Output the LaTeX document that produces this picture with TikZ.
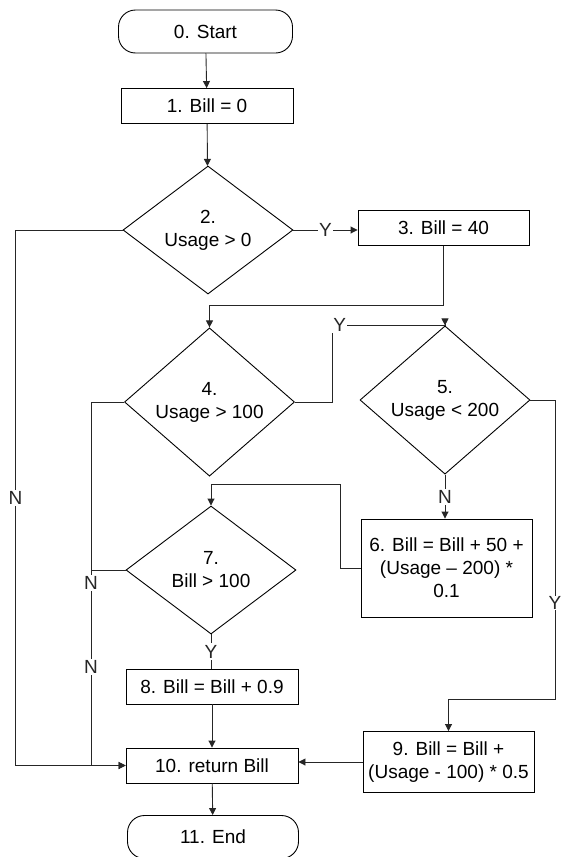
\documentclass[tikz,border=0pt]{standalone}
\usepackage{fontspec}
\setmainfont{Liberation Sans}
\usepackage{tikz}
\usetikzlibrary{positioning,shapes.geometric,arrows.meta}
\tikzset{
  % --- flowchart blocks -----------------------------------------------------
  term/.style={rectangle,draw,rounded corners=17pt,minimum width=174pt,
               minimum height=43pt,inner sep=1pt},
  proc/.style={rectangle,draw,minimum width=172pt,minimum height=35pt,
               inner sep=1pt,align=center},
  dec/.style={diamond,draw,minimum width=170pt,minimum height=128pt,
              inner sep=0pt,align=center},
  % --- connectors -----------------------------------------------------------
  line/.style={black!85,line width=0.9pt},
  flow/.style={line,-{Triangle[length=7pt,width=7pt]}},
  lab/.style={fill=white,inner sep=1.5pt},
}

\begin{document}
\begin{tikzpicture}[x=1pt,y=-1pt,line width=0.9pt,
    font=\fontsize{19}{23}\selectfont]
  \useasboundingbox (0,0) rectangle (563,857);

  \node[term] (start) at (205.5,31.5) {0. Start};
  \node[proc] (b1)  at (207,106)   {1. Bill = 0};
  \node[dec]  (d2)  at (208,230)   {2.\\Usage > 0};
  \node[proc,minimum width=171pt] (b3) at (443.5,228) {3. Bill = 40};
  \node[dec]  (d4)  at (209.5,402) {4.\\Usage > 100};
  \node[dec]  (d5)  at (445,400)   {5.\\Usage < 200};
  \node[proc,minimum width=171pt,minimum height=98pt] (b6) at (446.5,568)
        {6. Bill = Bill + 50 +\\(Usage – 200) *\\0.1};
  \node[dec]  (d7)  at (211,570)   {7.\\Bill > 100};
  \node[proc] (b8)  at (212,686.5) {8. Bill = Bill + 0.9};
  \node[proc] (b10) at (212,765.5) {10. return Bill};
  \node[proc,minimum width=171pt,minimum height=61pt] (b9) at (448.5,762)
        {9. Bill = Bill +\\(Usage - 100) * 0.5};
  \node[term,minimum width=171pt] (end) at (213,837) {11. End};

  \coordinate (r5) at (555,699);

  \draw[flow] (start) -- (b1);
  \draw[flow] (b1) -- (d2);
  \draw[flow] (d2.east) -- node[lab]{Y} (d2.east -| b3.west);
  \draw[flow] (b3.south) -- ++(0,59.5) -| (d4.north);
  \draw[flow] (d4.east) -- ++(37,0) -- ++(0,-77)
        node[lab,anchor=west,inner sep=1pt]{Y} -| (d5.north);
  \draw[flow] (d5.east) -| node[lab,pos=0.84,inner sep=0.5pt]{Y} (r5) -| (b9.north);
  \draw[flow] (d5.south) -- node[lab]{N} (d5.south |- b6.north);
  \draw[flow] (b6.west) -- ++(-20,0) -- ++(0,-84) -| (d7.north);
  \draw[line] (d7.south) -- node[lab]{Y} (d7.south |- b8.north);
  \draw[flow] (b8) -- (b10);
  \draw[flow] (b10) -- (end);
  \draw[flow] (b9.west) -- (b9.west -| b10.east);
  \draw[flow] (d2.west) -- ++(-107,0) |- node[lab,pos=0.25]{N} (b10.west);
  \draw[line] (d7.west) -- ++(-34,0);
  \draw[flow] (d4.west) -- ++(-33,0) |- node[lab,pos=0.249]{N}
        node[lab,pos=0.365]{N} (b10.west);
\end{tikzpicture}
\end{document}
